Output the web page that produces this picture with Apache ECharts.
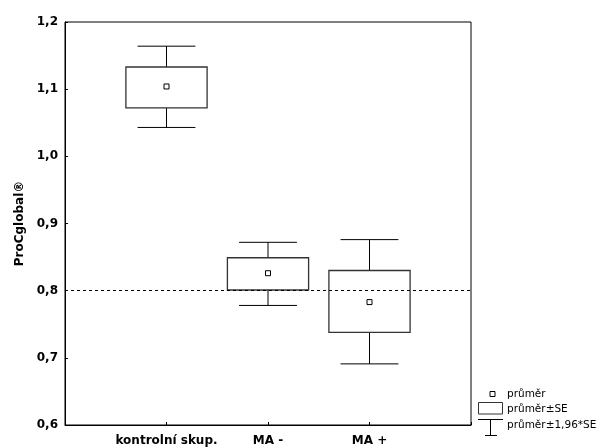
<!DOCTYPE html>
<html>
<head>
<meta charset="utf-8">
<script src="https://cdn.jsdelivr.net/npm/echarts@6/dist/echarts.min.js"></script>
<style>
html,body{margin:0;padding:0;background:#fff;}
#chart{width:601px;height:448px;}
</style>
</head>
<body>
<div id="chart"></div>
<script>
const categories = ['kontrolní skup.', 'MA -', 'MA +'];
const meanValues = [1.104, 0.826, 0.783];
const seLower = [1.072, 0.801, 0.738];
const seUpper = [1.133, 0.849, 0.830];
const ciLower = [1.043, 0.778, 0.691];
const ciUpper = [1.164, 0.872, 0.876];
const yTicks = [0.6, 0.7, 0.8, 0.9, 1.0, 1.1, 1.2];
const referenceValue = 0.8;
const legendLabels = ['průměr', 'průměr±SE', 'průměr±1,96*SE'];

const FONT = '"DejaVu Sans", Arial, sans-serif';
const chart = echarts.init(document.getElementById('chart'));

const data = categories.map((c, i) => [i + 1, meanValues[i], seLower[i], seUpper[i], ciLower[i], ciUpper[i]]);

function renderItem(params, api) {
  const x = api.value(0);
  const mean = api.coord([x, api.value(1)]);
  const seLo = api.coord([x, api.value(2)]);
  const seHi = api.coord([x, api.value(3)]);
  const ciLo = api.coord([x, api.value(4)]);
  const ciHi = api.coord([x, api.value(5)]);
  const halfBox = api.size([0.4, 0])[0];
  const halfCap = api.size([0.285, 0])[0];
  const cx = mean[0];
  const lineStyle = { stroke: '#000', lineWidth: 1, fill: null };
  return {
    type: 'group',
    children: [
      { type: 'line', shape: { x1: cx, y1: ciHi[1], x2: cx, y2: seHi[1] }, style: lineStyle },
      { type: 'line', shape: { x1: cx, y1: seLo[1], x2: cx, y2: ciLo[1] }, style: lineStyle },
      { type: 'line', shape: { x1: cx - halfCap, y1: ciHi[1], x2: cx + halfCap, y2: ciHi[1] }, style: lineStyle },
      { type: 'line', shape: { x1: cx - halfCap, y1: ciLo[1], x2: cx + halfCap, y2: ciLo[1] }, style: lineStyle },
      { type: 'rect', shape: { x: cx - halfBox, y: seHi[1], width: 2 * halfBox, height: seLo[1] - seHi[1] },
        style: { stroke: '#333', lineWidth: 1.3, fill: '#fff' } },
      { type: 'rect', shape: { x: cx - 2.5, y: mean[1] - 2.5, width: 5, height: 5 },
        style: { stroke: '#000', lineWidth: 1, fill: '#fff' } }
    ]
  };
}

const legendTextStyle = { fill: '#000', font: '10.5px ' + FONT, textVerticalAlign: 'middle' };

chart.setOption({
  animation: false,
  backgroundColor: '#fff',
  grid: { left: 65, top: 22, width: 406, height: 403, show: true, borderColor: '#000', borderWidth: 1, backgroundColor: 'transparent' },
  xAxis: {
    type: 'value', min: 0, max: 4, interval: 1,
    splitLine: { show: false },
    axisLine: { show: true, lineStyle: { color: '#000' } },
    axisTick: { show: true, inside: true, length: 3, lineStyle: { color: '#000' } },
    axisLabel: {
      color: '#000', fontFamily: FONT, fontWeight: 'bold', fontSize: 12, margin: 10,
      formatter: v => (v >= 1 && v <= categories.length && Number.isInteger(v)) ? categories[v - 1] : ''
    }
  },
  yAxis: {
    type: 'value', min: yTicks[0], max: yTicks[yTicks.length - 1], interval: 0.1,
    name: 'ProCglobal®', nameLocation: 'middle', nameGap: 31,
    nameTextStyle: { color: '#000', fontFamily: FONT, fontWeight: 'bold', fontSize: 12 },
    splitLine: { show: false },
    axisLine: { show: true, lineStyle: { color: '#000' } },
    axisTick: { show: true, inside: true, length: 3, lineStyle: { color: '#000' } },
    axisLabel: {
      color: '#000', fontFamily: FONT, fontWeight: 'bold', fontSize: 12, margin: 7,
      formatter: v => v.toFixed(1).replace('.', ',')
    }
  },
  series: [{
    type: 'custom',
    renderItem: renderItem,
    data: data,
    clip: false,
    z: 3,
    markLine: {
      silent: true, symbol: 'none', z: 5,
      label: { show: false },
      lineStyle: { color: '#000', width: 1, type: [3, 3] },
      data: [{ yAxis: referenceValue }]
    }
  }],
  graphic: [
    { type: 'rect', shape: { x: 490, y: 391.5, width: 5, height: 5 }, style: { stroke: '#000', lineWidth: 1, fill: '#fff' } },
    { type: 'text', x: 507, y: 394, style: Object.assign({ text: legendLabels[0] }, legendTextStyle) },
    { type: 'rect', shape: { x: 478.5, y: 402.5, width: 24, height: 11.5 }, style: { stroke: '#333', lineWidth: 1, fill: '#fff' } },
    { type: 'text', x: 507, y: 409, style: Object.assign({ text: legendLabels[1] }, legendTextStyle) },
    { type: 'line', shape: { x1: 478, y1: 419.5, x2: 503, y2: 419.5 }, style: { stroke: '#000', lineWidth: 1 } },
    { type: 'line', shape: { x1: 490.5, y1: 419.5, x2: 490.5, y2: 435 }, style: { stroke: '#000', lineWidth: 1 } },
    { type: 'line', shape: { x1: 485, y1: 435.5, x2: 497, y2: 435.5 }, style: { stroke: '#000', lineWidth: 1 } },
    { type: 'text', x: 507, y: 425, style: Object.assign({ text: legendLabels[2] }, legendTextStyle) }
  ]
});
</script>
</body>
</html>
